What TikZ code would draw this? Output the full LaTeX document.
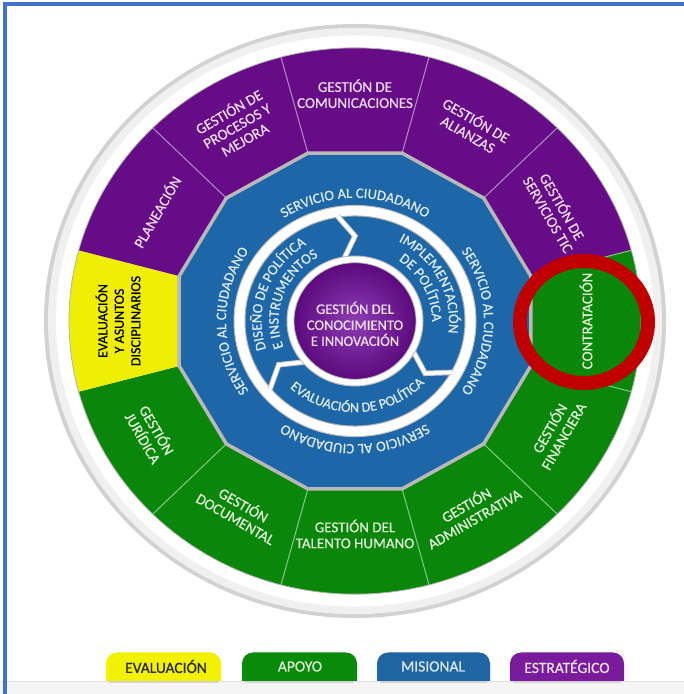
\documentclass[tikz,border=0pt]{standalone}
\usepackage{fontspec}
\setmainfont{Carlito}[FakeBold=0.6]
\usetikzlibrary{decorations.text,fadings}
\definecolor{purp}{HTML}{650C86}
\definecolor{grn}{HTML}{0A870A}
\definecolor{yel}{HTML}{EFEF05}
\definecolor{blu}{HTML}{1D66A8}
\definecolor{ptext}{HTML}{ECDCF3}
\definecolor{gtext}{HTML}{E2F2DA}
\definecolor{btext}{HTML}{DCEAF8}
\definecolor{ctext}{HTML}{F2E2F7}
\definecolor{framec}{HTML}{4472C4}
\definecolor{redc}{HTML}{C00000}
\definecolor{pdiv}{HTML}{B48BC9}
\definecolor{gdiv}{HTML}{86C886}
\definecolor{lgyel}{HTML}{F2F200}
\definecolor{lggrn}{HTML}{0A8A0A}
\definecolor{lgblu}{HTML}{1F64A3}
\definecolor{lgpur}{HTML}{7A1B9E}
\pgfdeclareradialshading{rimshade}{\pgfpointorigin}{color(0bp)=(black); color(38bp)=(black); color(50bp)=(white!40!black)}
\pgfdeclarefading{rimfade}{\pgfuseshading{rimshade}}
\begin{document}
\begin{tikzpicture}[x=1pt,y=1pt,
  seglabel/.style={align=center, font=\fontsize{15}{16}\selectfont, inner sep=0pt},
  pilltext/.style={font=\fontsize{15.5}{16}\selectfont, inner sep=0pt}]
\useasboundingbox (0,0) rectangle (684,694);
\fill[white] (0,0) rectangle (684,694);
% bottom band
\fill[gray!8] (0,0) rectangle (684,13);
\draw[gray!25, line width=0.8] (0,13) -- (684,13);
% frame
\draw[framec, line width=4] (5.3,0) -- (5.3,690.3) -- (684,690.3);

% ===== wheel shapes =====
\begin{scope}[shift={(355,373)}, yscale=0.955]
  \fill[gray!35] (0,0) circle[radius=311];
  \fill[gray!12] (0,0) circle[radius=307];
  \fill[white] (0,0) circle[radius=299];
  \foreach \a/\c in {90/purp,60/purp,30/purp,0/grn,-30/grn,-60/grn,-90/grn,-120/grn,-150/grn,180/yel,150/purp,120/purp}{
    \fill[\c] ({\a-15}:182) -- ({\a-15}:286) arc[start angle={\a-15}, end angle={\a+15}, radius=286] -- ({\a+15}:182) -- cycle;
  }
  \fill[black, path fading=rimfade] (0,0) circle[radius=286];
  \draw[gray!60, line width=0.8] (0,0) circle[radius=286];
  \foreach \a/\c in {15/gdiv,45/pdiv,75/pdiv,105/pdiv,135/pdiv,-15/gdiv,-45/gdiv,-75/gdiv,-105/gdiv,-135/gdiv}{
    \draw[\c, line width=1] (\a:182) -- (\a:286);
  }
  % polygon band
  \draw[gray!55, line width=3.5, fill=blu, line join=miter] (15:182) \foreach \k in {1,...,11} { -- ({15+30*\k}:182) } -- cycle;
  % white ring
  \fill[white] (0,0) circle[radius=121];
  \draw[gray!50, line width=1] (0,0) circle[radius=121];
  \fill[blu] (0,0) circle[radius=110];
  \draw[gray!60, line width=1] (0,0) circle[radius=110];
  % chevrons
  \foreach \e/\t in {99/90,-29/-38,-140/-149}{
    \draw[gray!45, line width=5.5, line join=miter] (\e:111) -- (\t:89) -- (\e:67);
    \draw[white, line width=3.5, line join=miter] (\e:111) -- (\t:89) -- (\e:67);
  }
  % centre
  \fill[white] (0,0) circle[radius=68];
  \draw[gray!50, line width=1] (0,0) circle[radius=68];
  \shade[inner color={rgb,255:red,140;green,60;blue,178}, outer color={rgb,255:red,92;green,10;blue,126}] (0,0) circle[radius=61];
  \draw[gray!60, line width=0.8] (0,0) circle[radius=61];

  % segment labels
  \node[seglabel, text=ptext] (com) at (90:238) {GESTIÓN DE\\COMUNICACIONES};
  \node[seglabel, text=ptext, rotate=-30] (ali) at (60:235) {GESTIÓN DE\\ALIANZAS};
  \node[seglabel, text=ptext, rotate=-60] (tic) at (30:232) {GESTIÓN DE\\SERVICIOS TIC};
  \node[seglabel, text=gtext, rotate=90] (con) at (0:231) {CONTRATACIÓN};
  \node[seglabel, text=gtext, rotate=60] (fin) at (-30:232) {GESTIÓN\\FINANCIERA};
  \node[seglabel, text=gtext, rotate=30] (adm) at (-60:230) {GESTIÓN\\ADMINISTRATIVA};
  \node[seglabel, text=gtext] (tal) at (-90:223) {GESTIÓN DEL\\TALENTO HUMANO};
  \node[seglabel, text=gtext, rotate=-30] (doc) at (-120:230) {GESTIÓN\\DOCUMENTAL};
  \node[seglabel, text=gtext, rotate=-60] (jur) at (-150:236) {GESTIÓN\\JURÍDICA};
  \node[seglabel, text=black, rotate=90, font=\fontsize{14}{16.5}\selectfont] (eva) at (180:237) {EVALUACIÓN\\Y ASUNTOS\\DISCIPLINARIOS};
  \node[seglabel, text=ptext, rotate=60] (pla) at (150:229) {PLANEACIÓN};
  \node[seglabel, text=ptext, rotate=30] (pro) at (120:237) {GESTIÓN DE\\PROCESOS Y\\MEJORA};
  % centre label
  \node[seglabel, text=ctext, font=\fontsize{14.5}{16}\selectfont] (gci) at (0,-3) {GESTIÓN DEL\\CONOCIMIENTO\\E INNOVACIÓN};
\end{scope}

% ===== curved texts =====
\begin{scope}[shift={(355,373)}]
  \foreach \m in {90,0,-90,-180}{
    \path[decorate, decoration={text along path, text align=center,
      text={|\fontsize{14.5}{15}\selectfont\color{btext}|SERVICIO AL CIUDADANO}}]
      ({\m+45}:129 and 123.2) arc[start angle={\m+45}, end angle={\m-45}, x radius=129, y radius=123.2];
  }
  \path[decorate, decoration={text along path, text align=center,
      text={|\fontsize{14.5}{15}\selectfont\color{btext}|DISEÑO DE POLÍTICA}}]
      (215:93.5 and 89.3) arc[start angle=215, end angle=105, x radius=93.5, y radius=89.3];
  \path[decorate, decoration={text along path, text align=center,
      text={|\fontsize{14.5}{15}\selectfont\color{btext}|E INSTRUMENTOS}}]
      (215:76.5 and 73.1) arc[start angle=215, end angle=105, x radius=76.5, y radius=73.1];
  \path[decorate, decoration={text along path, text align=center,
      text={|\fontsize{14.5}{15}\selectfont\color{btext}|IMPLEMENTACIÓN}}]
      (82:94 and 89.8) arc[start angle=82, end angle=-28, x radius=94, y radius=89.8];
  \path[decorate, decoration={text along path, text align=center,
      text={|\fontsize{14.5}{15}\selectfont\color{btext}|DE POLÍTICA}}]
      (82:77 and 73.5) arc[start angle=82, end angle=-28, x radius=77, y radius=73.5];
  \path[decorate, decoration={text along path, text align=center,
      text={|\fontsize{14}{15}\selectfont\color{btext}|EVALUACIÓN DE POLÍTICA}}]
      (-150:95.5 and 91.2) arc[start angle=-150, end angle=-26, x radius=95.5, y radius=91.2];
\end{scope}

% red annotation ring
\draw[redc, line width=14] (584,372) ellipse[x radius=64, y radius=61];

% ===== legend =====
\foreach \xa/\xb in {106/221,242/357,377/490,510/624}{
  \fill[gray!35] (\xa+3,11) rectangle (\xb-3,13);
}
\fill[lgyel] (106,13) [rounded corners=11] -- (106,41.5) -- (221,41.5) [sharp corners] -- (221,13) -- cycle;
\fill[lggrn] (242,13) [rounded corners=11] -- (242,41.5) -- (357,41.5) [sharp corners] -- (357,13) -- cycle;
\fill[lgblu] (377,13) [rounded corners=11] -- (377,41.5) -- (490,41.5) [sharp corners] -- (490,13) -- cycle;
\fill[lgpur] (510,13) [rounded corners=11] -- (510,41.5) -- (624,41.5) [sharp corners] -- (624,13) -- cycle;
\node[pilltext, text=black!85] (lev) at (166,27.5) {EVALUACIÓN};
\node[pilltext, text={rgb,255:red,222;green,240;blue,214}] (lap) at (300,27.5) {APOYO};
\node[pilltext, text={rgb,255:red,220;green,232;blue,245}] (lmi) at (433,27.5) {MISIONAL};
\node[pilltext, text={rgb,255:red,243;green,227;blue,247}] (les) at (567,27.5) {ESTRATÉGICO};
\end{tikzpicture}
\end{document}
